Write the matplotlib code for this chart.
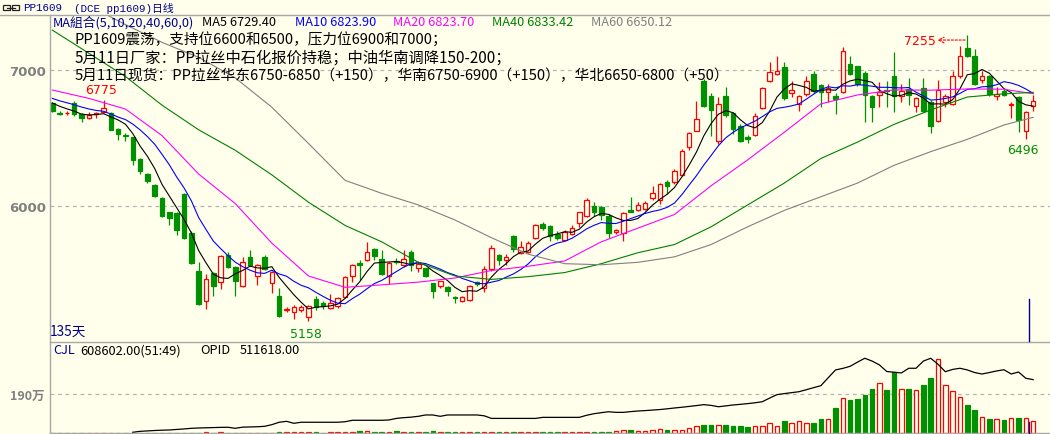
import numpy as np
import matplotlib
matplotlib.use("Agg")
import matplotlib.pyplot as plt
from matplotlib.lines import Line2D
from matplotlib.patches import Rectangle

plt.rcParams['font.family'] = ['Noto Sans CJK SC', 'DejaVu Sans']

# ---- daily OHLC, PP1609 (135 bars) ----
opens = [6756, 6680, 6680, 6754, 6676, 6646, 6678, 6688, 6681, 6566,
         6520, 6505, 6346, 6236, 6156, 6061, 5956, 5949, 6090, 5805,
         5524, 5309, 5510, 5444, 5644, 5554, 5419, 5627, 5492, 5631,
         5439, 5346, 5243, 5224, 5240, 5187, 5322, 5290, 5255, 5272,
         5334, 5487, 5583, 5607, 5688, 5614, 5492, 5602, 5570, 5668,
         5546, 5546, 5437, 5414, 5412, 5339, 5309, 5317, 5445, 5400,
         5541, 5644, 5607, 5785, 5658, 5663, 5766, 5871, 5854, 5798,
         5756, 5797, 5876, 5931, 6005, 5993, 5931, 5814, 5804, 5973,
         5973, 5980, 6059, 6046, 6180, 6176, 6229, 6432, 6554, 6920,
         6805, 6480, 6805, 6683, 6590, 6505, 6522, 6717, 6920, 6968,
         7017, 6827, 6749, 6822, 6969, 6888, 6839, 6805, 6835, 7042,
         7025, 6976, 6810, 6815, 6850, 6956, 6807, 6855, 6732, 6864,
         6763, 6627, 6761, 6749, 6951, 7156, 7098, 6927, 6951, 6810,
         6846, 6745, 6798, 6549, 6737]
highs = [6760, 6695, 6700, 6769, 6680, 6688, 6692, 6775, 6690, 6570,
         6540, 6510, 6350, 6245, 6165, 6070, 5960, 5955, 6095, 5822,
         5595, 5504, 5520, 5640, 5668, 5560, 5631, 5680, 5580, 5640,
         5530, 5400, 5265, 5275, 5280, 5280, 5340, 5310, 5358, 5335,
         5490, 5575, 5607, 5741, 5695, 5680, 5590, 5620, 5683, 5680,
         5600, 5550, 5440, 5455, 5415, 5342, 5340, 5424, 5455, 5563,
         5717, 5650, 5650, 5790, 5749, 5745, 5870, 5888, 5860, 5820,
         5825, 5860, 5960, 6061, 6030, 6000, 5945, 5835, 5956, 6066,
         6030, 6040, 6151, 6170, 6195, 6270, 6418, 6545, 6773, 6930,
         6830, 6798, 6871, 6690, 6600, 6520, 6680, 6870, 7054, 7102,
         7059, 6920, 6815, 6951, 6993, 6895, 6895, 6830, 7164, 7102,
         7030, 6990, 6815, 6908, 6914, 7127, 6895, 6937, 6800, 6937,
         6775, 6927, 6820, 6993, 7176, 7255, 7151, 6990, 6960, 6871,
         6860, 6760, 6805, 6700, 6815]
lows = [6690, 6665, 6665, 6663, 6615, 6636, 6650, 6680, 6555, 6488,
        6475, 6302, 6236, 6170, 6070, 5925, 5863, 5790, 5760, 5580,
        5280, 5251, 5346, 5395, 5550, 5341, 5410, 5560, 5424, 5535,
        5363, 5190, 5225, 5175, 5225, 5158, 5240, 5250, 5245, 5255,
        5330, 5448, 5463, 5600, 5607, 5500, 5431, 5575, 5555, 5529,
        5520, 5485, 5327, 5400, 5346, 5292, 5300, 5310, 5420, 5375,
        5530, 5570, 5570, 5666, 5650, 5655, 5760, 5830, 5749, 5755,
        5750, 5790, 5847, 5925, 5931, 5900, 5766, 5795, 5749, 5955,
        5965, 5970, 6048, 6017, 6090, 6165, 6225, 6410, 6550, 6730,
        6512, 6456, 6651, 6529, 6468, 6465, 6512, 6710, 6910, 6960,
        6780, 6803, 6700, 6810, 6830, 6725, 6761, 6676, 6830, 6960,
        6880, 6620, 6620, 6725, 6725, 6690, 6761, 6740, 6690, 6690,
        6537, 6615, 6725, 6740, 6940, 7090, 6890, 6903, 6805, 6780,
        6810, 6644, 6542, 6496, 6700]
closes = [6695, 6672, 6685, 6676, 6644, 6668, 6683, 6718, 6561, 6529,
          6512, 6341, 6261, 6187, 6078, 5931, 5914, 5829, 5768, 5583,
          5285, 5468, 5414, 5634, 5558, 5456, 5590, 5570, 5573, 5541,
          5517, 5195, 5250, 5261, 5265, 5272, 5261, 5268, 5290, 5329,
          5480, 5570, 5570, 5663, 5639, 5504, 5585, 5590, 5614, 5570,
          5578, 5492, 5378, 5451, 5383, 5329, 5334, 5415, 5430, 5541,
          5693, 5610, 5627, 5688, 5705, 5732, 5863, 5841, 5785, 5768,
          5814, 5839, 5956, 6046, 5961, 5939, 5802, 5829, 5951, 5961,
          6010, 6024, 6098, 6163, 6146, 6256, 6407, 6537, 6639, 6737,
          6707, 6749, 6668, 6566, 6480, 6493, 6663, 6864, 6985, 6993,
          6790, 6851, 6805, 6915, 6846, 6834, 6866, 6786, 7135, 6969,
          6895, 6815, 6725, 6839, 6845, 6810, 6846, 6815, 6793, 6700,
          6588, 6854, 6805, 6956, 7098, 7102, 6895, 6956, 6822, 6820,
          6815, 6752, 6634, 6693, 6773]
# closes before the visible window (needed for the first MA5/MA10 points)
pre_closes = [6850, 6830, 6820, 6810, 6810, 6790, 6780, 6760, 6755]

# longer moving averages at every 5th bar
ma_idx = [0, 5, 10, 15, 20, 25, 30, 35, 40, 45, 50, 55, 60, 65, 70, 75, 80,
          85, 90, 95, 100, 105, 110, 115, 120, 125, 130, 134]
ma20 = [6851, 6790, 6712, 6517, 6236, 6020, 5730, 5490, 5407, 5425, 5445,
        5475, 5530, 5561, 5600, 5740, 5840, 5940, 6150, 6340, 6542, 6750,
        6815, 6852, 6850, 6859, 6857, 6824]
ma40 = [7290, 7120, 6950, 6740, 6560, 6410, 6230, 6030, 5860, 5740, 5590,
        5490, 5465, 5485, 5515, 5580, 5660, 5720, 5850, 6010, 6170, 6350,
        6470, 6600, 6705, 6800, 6823, 6834]
ma60 = [7600, 7470, 7330, 7200, 7090, 6940, 6725, 6460, 6190, 6095, 6010,
        5900, 5770, 5650, 5580, 5572, 5590, 5630, 5720, 5850, 5970, 6070,
        6170, 6300, 6400, 6490, 6595, 6651]

ma_names = ["MA5", "MA10", "MA20", "MA40", "MA60"]
ma_last = [6729.40, 6823.90, 6823.70, 6833.42, 6650.12]

# volume (万手) and open interest (万手)
volume = [1.0, 0.8, 0.6, 1.2, 0.9, 0.7, 0.8, 1.1, 1.3, 1.0,
          0.9, 1.5, 1.4, 1.2, 1.6, 1.8, 1.3, 1.7, 2.0, 2.2,
          2.4, 4, 1, 4, 1, 1, 1, 1, 1, 1,
          1, 4, 4, 4, 4, 4, 4, 1, 4, 4,
          4, 3, 8, 11, 3, 3, 3, 8, 3, 3,
          3, 3, 8, 3, 3, 3, 3, 3, 3, 3,
          6, 3, 3, 3, 3, 3, 6, 3, 3, 3,
          3, 3, 3, 6, 3, 3, 3, 8, 13, 13,
          8, 8, 15, 20, 15, 15, 15, 25, 33, 39,
          39, 39, 39, 34, 34, 29, 34, 34, 49, 34,
          59, 49, 59, 49, 49, 69, 69, 123, 172, 162,
          167, 188, 216, 246, 211, 298, 216, 216, 211, 236,
          270, 363, 236, 206, 177, 137, 114, 77, 69, 69,
          64, 74, 74, 74, 61]
oi_start = 11
open_interest = [0.7, 1.6, 2.0, 2.4, 2.7, 2.9, 3.4, 3.9, 4.5,
                 4.8, 5.0, 5.2, 5.4, 5.5, 4.5, 5.6, 5.8, 6.0, 6.4,
                 8.0, 10.3, 11.2, 9.3, 10.3, 10.3, 10.3, 10.3, 10.3, 10.3,
                 10.8, 12.2, 12.2, 12.2, 12.2, 12.2, 12.5, 14.0, 14.7, 15.2,
                 16.0, 17.3, 17.3, 16.0, 17.3, 17.3, 17.3, 17.3, 17.3, 16.5,
                 14.0, 14.0, 14.0, 14.0, 14.0, 14.0, 14.0, 15.0, 15.0, 15.0,
                 15.0, 15.0, 15.0, 17.0, 18.5, 19.5, 20.4, 19.8, 19.8, 20.5,
                 21.1, 21.5, 22.0, 22.5, 23.2, 24.0, 24.7, 25.5, 26.3, 27.2,
                 26.5, 25.2, 26.0, 26.9, 27.5, 28.2, 29.0, 30.0, 33.5, 36.8,
                 37.8, 38.7, 39.6, 41.5, 43.5, 45.4, 53.0, 60.5, 62.0, 64.0,
                 68.0, 71.7, 69.0, 65.3, 59.0, 58.3, 57.6, 62.1, 62.1, 69.0,
                 71.7, 66.0, 58.8, 61.0, 62.1, 60.5, 58.0, 56.6, 58.0, 59.5,
                 60.7, 56.6, 58.5, 52.5, 51.2]

notes = ["PP1609震荡，支持位6600和6500，压力位6900和7000；",
         "5月11日厂家：PP拉丝中石化报价持稳；中油华南调降150-200；",
         "5月11日现货：PP拉丝华东6750-6850（+150），华南6750-6900（+150），华北6650-6800（+50）"]
note_ends = [447, 512, 729]   # right edge of each note line in the reference, px

BG = "#FFFFEC"
RED = "#FF0000"
GREEN = "#009000"
GRID = "#B4B4B4"
NAVY = "#000090"
W, H = 1050, 435


def fx(x):
    return x / W


def fy(y):
    return 1 - y / H


o = np.array(opens, float)
c = np.array(closes, float)
hi = np.array(highs, float)
lo = np.array(lows, float)
n = len(c)
x = np.arange(n)
up = c >= o
cols = np.where(up, RED, GREEN)

allc = np.concatenate([pre_closes, c])
ma5 = np.convolve(allc, np.ones(5) / 5, mode="valid")[-n:]
ma10 = np.convolve(allc, np.ones(10) / 10, mode="valid")[-n:]

fig = plt.figure(figsize=(W / 100, H / 100), dpi=100, facecolor=BG)
ax = fig.add_axes([fx(50), fy(342), fx(1000), 325 / H], facecolor=BG)
axv = fig.add_axes([fx(50), fy(434), fx(1000), 91 / H], facecolor=BG)
axo = axv.twinx()

xlim = (-0.31, 136.3)
for a in (ax, axv, axo):
    a.set_xlim(*xlim)
    for s in a.spines.values():
        s.set_visible(False)
    a.set_xticks([])

# ---- price panel ----
ax.set_ylim(5014, 7393)
for lvl in (6000, 7000):
    ax.axhline(lvl, color=GRID, lw=0.9, ls=(0, (3, 3)), zorder=1)
ax.set_yticks([6000, 7000])
ax.set_yticklabels(["6000", "7000"], fontsize=9.5, fontweight="bold",
                   color="#808080", family="DejaVu Sans")
ax.tick_params(axis="y", length=0, pad=3)

bw = 0.62
ax.vlines(x, lo, hi, colors=cols, lw=0.9, zorder=2)
ax.bar(x, np.abs(c - o), bw, bottom=np.minimum(o, c),
       color=np.where(up, BG, GREEN), edgecolor=cols, lw=0.9, zorder=3)

ax.plot(x, ma5, color="black", lw=0.8, zorder=4)
ax.plot(x, ma10, color="#0000FF", lw=0.8, zorder=4)
ax.plot(ma_idx, ma20, color="#FF00FF", lw=0.8, zorder=4)
ax.plot(ma_idx, ma40, color="#008000", lw=0.8, zorder=4)
ax.plot(ma_idx, ma60, color="#808080", lw=0.8, zorder=4)

# extreme labels
i7 = int(np.argmax(hi[:30]))
ax.annotate(f"{hi[i7]:.0f}", (i7, hi[i7]), xytext=(-2, 3), textcoords="offset points",
            ha="center", va="bottom", color=RED, fontsize=9, family="DejaVu Sans")
i5 = int(np.argmin(lo))
ax.annotate(f"{lo[i5]:.0f}", (i5, lo[i5]), xytext=(-2, -4), textcoords="offset points",
            ha="center", va="top", color=GREEN, fontsize=9, family="DejaVu Sans")
i6 = 100 + int(np.argmin(lo[100:]))
ax.annotate(f"{lo[i6]:.0f}", (i6, lo[i6]), xytext=(-2, -3), textcoords="offset points",
            ha="center", va="top", color=GREEN, fontsize=9, family="DejaVu Sans")
i7h = int(np.argmax(hi))
ax.annotate("", xy=(i7h - 4.1, hi[i7h] - 38), xytext=(i7h - 0.3, hi[i7h] - 38),
            arrowprops=dict(arrowstyle="->", color=RED, lw=0.8, ls=(0, (2, 1.5)),
                            shrinkA=0, shrinkB=0))
ax.text(i7h - 4.3, hi[i7h] - 38, f"{hi[i7h]:.0f}", ha="right", va="center",
        color=RED, fontsize=9, family="DejaVu Sans")

# ---- volume panel ----
axv.set_ylim(0, 447)
axo.set_ylim(0, 87.3)
axv.axhline(190, color=GRID, lw=0.9, ls=(0, (3, 3)), zorder=1)
axv.set_yticks([190])
axv.set_yticklabels(["190万"], fontsize=9, fontweight="bold", color="#808080")
axv.tick_params(axis="y", length=0, pad=4)
axo.set_yticks([])
axv.bar(x, volume, 0.62, color=np.where(up, BG, GREEN), edgecolor=cols, lw=0.9, zorder=2)
axo.plot(np.arange(oi_start, n), open_interest, color="black", lw=0.9, zorder=3)

# ---- frame lines ----
for seg in [((0, 1050), (16, 16)), ((50, 50), (16, 434)), ((50, 1050), (342.5, 342.5)),
            ((50, 1050), (434, 434))]:
    fig.add_artist(Line2D([fx(v) for v in seg[0]], [fy(v) for v in seg[1]],
                          color="#A8A8A8", lw=1.0))
for y0, y1 in [(300, 342), (423, 434)]:
    fig.add_artist(Line2D([fx(1029), fx(1029)], [fy(y0), fy(y1)], color=NAVY, lw=1.0))

# ---- header & legend texts ----
fig.add_artist(Rectangle((fx(3), fy(11)), fx(7), 5 / H, fill=False, ec="#202020", lw=0.9))
fig.add_artist(Rectangle((fx(12), fy(11)), fx(7), 5 / H, fill=False, ec="#202020", lw=0.9))
fig.add_artist(Line2D([fx(7), fx(15)], [fy(8.5), fy(8.5)], color="#202020", lw=0.9))
mono = ["Liberation Mono", "Noto Sans CJK SC"]
fig.text(fx(23), fy(8), "PP1609", color=NAVY, fontsize=7.8, va="center", family=mono)
fig.text(fx(74), fy(8), "(DCE pp1609)日线", color=NAVY, fontsize=7.8, va="center", family=mono)

fig.text(fx(53), fy(23), "MA組合(5,10,20,40,60,0)", color=NAVY, fontsize=9.2,
         va="center", family=["Noto Sans CJK TC", "DejaVu Sans"])
ma_cols = ["black", "#0000FF", "#FF00FF", "#008000", "#808080"]
for name, val, col, xp in zip(ma_names, ma_last, ma_cols, [202, 295, 393, 492, 591]):
    fig.text(fx(xp), fy(23), f"{name} {val:.2f}", color=col, fontsize=9.2, va="center")

# note lines: size each one so it spans the same width as in the reference
renderer = fig.canvas.get_renderer()
for k, (line, xe) in enumerate(zip(notes, note_ends)):
    t = fig.text(fx(75), fy(40 + 18 * k), line, color="black", fontsize=10, va="center")
    wpx = t.get_window_extent(renderer).width
    t.set_fontsize(min(11.5, 10 * (xe - 75) / wpx))

fig.text(fx(50), fy(332), "135天", color=NAVY, fontsize=9.8, va="center")
fig.text(fx(53), fy(351), "CJL", color=NAVY, fontsize=9.2, va="center")
fig.text(fx(80), fy(351), f"{608602:.2f}(51:49)", color="black", fontsize=9.2, va="center")
fig.text(fx(200), fy(351), "OPID", color="black", fontsize=9.2, va="center")
fig.text(fx(240), fy(351), f"{511618:.2f}", color="black", fontsize=9.2, va="center")

fig.savefig("out.png", dpi=100, facecolor=BG)
